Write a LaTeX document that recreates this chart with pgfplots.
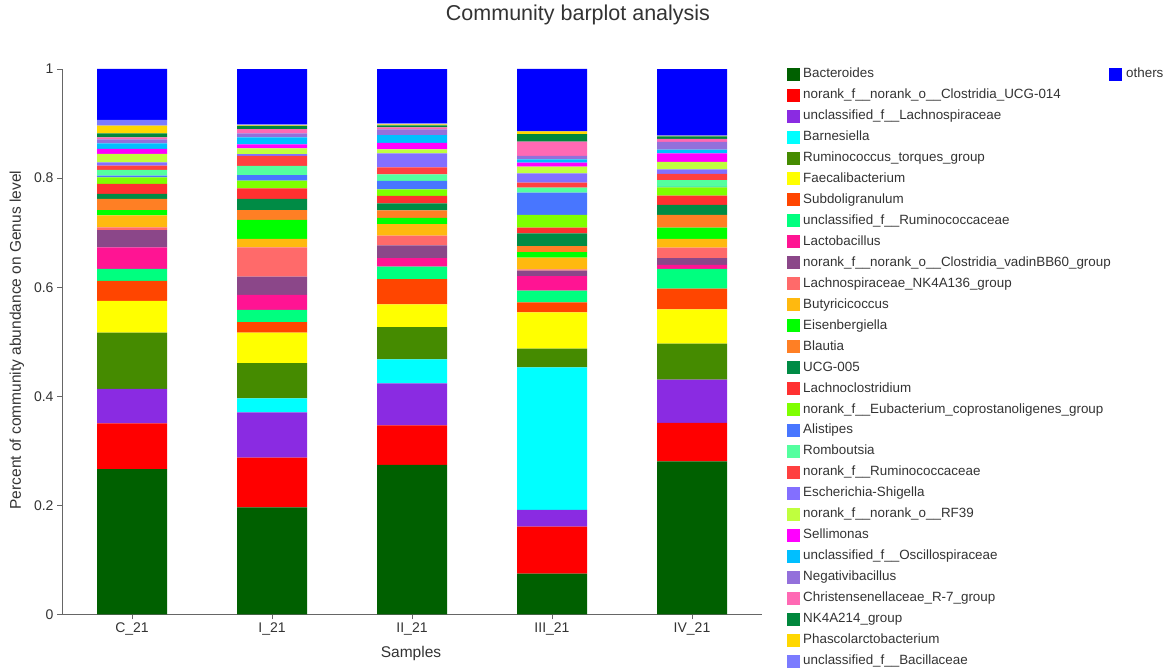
\documentclass[border=0pt]{standalone}
\usepackage{pgfplots}
\pgfplotsset{compat=1.18}
\usepackage{pgfplotstable}
\usepackage{fontspec}
\setmainfont{Liberation Sans}

\definecolor{cBact}{HTML}{006000}
\definecolor{cUCG014}{HTML}{FF0000}
\definecolor{cuLachno}{HTML}{8A2BE2}
\definecolor{cBarnes}{HTML}{00FFFF}
\definecolor{cRumTorq}{HTML}{458B00}
\definecolor{cFaecali}{HTML}{FFFF00}
\definecolor{cSubdoli}{HTML}{FF4500}
\definecolor{cuRum}{HTML}{00FF7F}
\definecolor{cLacto}{HTML}{FF1493}
\definecolor{cVadin}{HTML}{8B4789}
\definecolor{cNKA136}{HTML}{FF6A6A}
\definecolor{cButyr}{HTML}{FFB90F}
\definecolor{cEisen}{HTML}{00FF00}
\definecolor{cBlautia}{HTML}{FF7F24}
\definecolor{cUCG005}{HTML}{008B45}
\definecolor{cLachnocl}{HTML}{FF3030}
\definecolor{cEubact}{HTML}{7FFF00}
\definecolor{cAlist}{HTML}{4876FF}
\definecolor{cRomb}{HTML}{54FF9F}
\definecolor{cnorRum}{HTML}{FF4040}
\definecolor{cEsch}{HTML}{836FFF}
\definecolor{cRF39}{HTML}{C0FF3E}
\definecolor{cSellim}{HTML}{FF00FF}
\definecolor{cOscillo}{HTML}{00BFFF}
\definecolor{cNegativ}{HTML}{9370DB}
\definecolor{cChrist}{HTML}{FF69B4}
\definecolor{cNKB214}{HTML}{00873C}
\definecolor{cPhascol}{HTML}{FFD700}
\definecolor{cBacill}{HTML}{7B7BFF}
\definecolor{cOthers}{HTML}{0000FF}
\definecolor{txt}{HTML}{333333}

\pgfplotstableread{
x Bact   UCG014 uLachno Barnes RumTorq Faecali Subdoli uRum   Lacto  Vadin  NKA136 Butyr  Eisen  Blautia UCG005 Lachnocl Eubact Alist  Romb   norRum Esch   RFtn   Sellim Oscillo Negativ Christ NKB214 Phascol Bacill others
0 0.2667 0.0838 0.0629  0      0.1032  0.0581  0.0367  0.0220 0.0397 0.0317 0.0050 0.0220 0.0097 0.0202  0.0092 0.0183   0.0123 0.0029 0.0105 0.0078 0.0063 0.0152 0.0092 0.0104  0.0073  0.0037 0.0073 0.0140  0.0104 0.0935
1 0.1965 0.0909 0.0833  0.0257 0.0642  0.0561  0.0191  0.0225 0.0275 0.0335 0.0539 0.0152 0.0348 0.0183  0.0202 0.0196   0.0139 0.0104 0.0170 0.0183 0.0031 0.0104 0.0073 0.0128  0.0073  0.0079 0.0061 0.0010  0.0016 0.1014
2 0.2741 0.0727 0.0770  0.0440 0.0592  0.0416  0.0464  0.0225 0.0160 0.0233 0.0176 0.0214 0.0115 0.0136  0.0128 0.0139   0.0117 0.0158 0.0117 0.0128 0.0257 0.0073 0.0121 0.0141  0.0104  0.0037 0.0037 0.0018  0.0019 0.0995
3 0.0748 0.0862 0.0306  0.2616 0.0341  0.0667  0.0183  0.0213 0.0269 0.0097 0.0026 0.0213 0.0104 0.0110  0.0233 0.0103   0.0233 0.0408 0.0092 0.0092 0.0172 0.0121 0.0073 0.0063  0.0060  0.0262 0.0141 0.0050  0.0000 0.1142
4 0.2808 0.0703 0.0793  0      0.0660  0.0631  0.0377  0.0362 0.0073 0.0128 0.0189 0.0160 0.0207 0.0233  0.0183 0.0170   0.0154 0.0010 0.0121 0.0117 0.0079 0.0141 0.0152 0.0073  0.0141  0.0055 0.0046 0.0010  0.0010 0.1213
}\data

\pgfplotsset{
  mylegimg/.style={legend image code/.code={\fill[##1] (0pt,-6.5pt) rectangle (13pt,6.5pt);}},
}

\begin{document}
\begin{tikzpicture}
\useasboundingbox (0,0) rectangle (1169pt,671pt);
\node[txt, font=\fontsize{21.5}{25}\selectfont] at (578pt,656pt) {Community barplot analysis};
\begin{axis}[
  at={(62pt,56.5pt)}, anchor=south west,
  scale only axis, width=700pt, height=545.5pt,
  ybar stacked, bar width=0.5,
  xmin=-0.5, xmax=4.5, ymin=0, ymax=1,
  axis lines=left, axis line style={-, gray!80!black},
  tick style={gray!80!black, line width=0.6pt}, tick align=outside,
  major tick length=5pt,
  xtick={0,1,2,3,4},
  xticklabels={C\_21, I\_21, II\_21, III\_21, IV\_21},
  ytick={0,0.2,0.4,0.6,0.8,1},
  yticklabel style={/pgf/number format/fixed, /pgf/number format/assume math mode=true},
  ticklabel style={txt, font=\fontsize{14}{16}\selectfont},
  xlabel={Samples}, ylabel={Percent of community abundance on Genus level},
  label style={txt, font=\fontsize{15.5}{18}\selectfont},
  xlabel style={at={(axis description cs:0.4986,-0.0706)}, anchor=center},
  ylabel style={at={(axis description cs:-0.0643,0.503)}, anchor=center},
  mylegimg,
  legend cell align=left,
  legend style={at={(axis description cs:1.0357,1.0028)}, anchor=north west,
    draw=none, fill=none, inner sep=0pt, row sep=7.96pt,
    nodes={txt, font=\fontsize{13.4}{15}\selectfont, inner ysep=0pt, inner xsep=3pt, text height=10pt, text depth=3pt}},
]
\addplot[fill=cBact, draw=none] table[x=x,y=Bact]{\data};
\addplot[fill=cUCG014, draw=none] table[x=x,y=UCG014]{\data};
\addplot[fill=cuLachno, draw=none] table[x=x,y=uLachno]{\data};
\addplot[fill=cBarnes, draw=none] table[x=x,y=Barnes]{\data};
\addplot[fill=cRumTorq, draw=none] table[x=x,y=RumTorq]{\data};
\addplot[fill=cFaecali, draw=none] table[x=x,y=Faecali]{\data};
\addplot[fill=cSubdoli, draw=none] table[x=x,y=Subdoli]{\data};
\addplot[fill=cuRum, draw=none] table[x=x,y=uRum]{\data};
\addplot[fill=cLacto, draw=none] table[x=x,y=Lacto]{\data};
\addplot[fill=cVadin, draw=none] table[x=x,y=Vadin]{\data};
\addplot[fill=cNKA136, draw=none] table[x=x,y=NKA136]{\data};
\addplot[fill=cButyr, draw=none] table[x=x,y=Butyr]{\data};
\addplot[fill=cEisen, draw=none] table[x=x,y=Eisen]{\data};
\addplot[fill=cBlautia, draw=none] table[x=x,y=Blautia]{\data};
\addplot[fill=cUCG005, draw=none] table[x=x,y=UCG005]{\data};
\addplot[fill=cLachnocl, draw=none] table[x=x,y=Lachnocl]{\data};
\addplot[fill=cEubact, draw=none] table[x=x,y=Eubact]{\data};
\addplot[fill=cAlist, draw=none] table[x=x,y=Alist]{\data};
\addplot[fill=cRomb, draw=none] table[x=x,y=Romb]{\data};
\addplot[fill=cnorRum, draw=none] table[x=x,y=norRum]{\data};
\addplot[fill=cEsch, draw=none] table[x=x,y=Esch]{\data};
\addplot[fill=cRF39, draw=none] table[x=x,y=RFtn]{\data};
\addplot[fill=cSellim, draw=none] table[x=x,y=Sellim]{\data};
\addplot[fill=cOscillo, draw=none] table[x=x,y=Oscillo]{\data};
\addplot[fill=cNegativ, draw=none] table[x=x,y=Negativ]{\data};
\addplot[fill=cChrist, draw=none] table[x=x,y=Christ]{\data};
\addplot[fill=cNKB214, draw=none] table[x=x,y=NKB214]{\data};
\addplot[fill=cPhascol, draw=none] table[x=x,y=Phascol]{\data};
\addplot[fill=cBacill, draw=none] table[x=x,y=Bacill]{\data};
\addplot[fill=cOthers, draw=none, forget plot] table[x=x,y=others]{\data};
\legend{Bacteroides, norank\_f\_\_norank\_o\_\_Clostridia\_UCG-014, unclassified\_f\_\_Lachnospiraceae, Barnesiella, Ruminococcus\_torques\_group, Faecalibacterium, Subdoligranulum, unclassified\_f\_\_Ruminococcaceae, Lactobacillus, norank\_f\_\_norank\_o\_\_Clostridia\_vadinBB60\_group, Lachnospiraceae\_NK4A136\_group, Butyricicoccus, Eisenbergiella, Blautia, UCG-005, Lachnoclostridium, norank\_f\_\_Eubacterium\_coprostanoligenes\_group, Alistipes, Romboutsia, norank\_f\_\_Ruminococcaceae, Escherichia-Shigella, norank\_f\_\_norank\_o\_\_RF39, Sellimonas, unclassified\_f\_\_Oscillospiraceae, Negativibacillus, Christensenellaceae\_R-7\_group, NK4A214\_group, Phascolarctobacterium, unclassified\_f\_\_Bacillaceae}
\end{axis}
\begin{axis}[
  at={(62pt,56.5pt)}, anchor=south west,
  scale only axis, width=700pt, height=545.5pt,
  xmin=0, xmax=1, ymin=0, ymax=1, hide axis,
  mylegimg,
  legend cell align=left,
  legend style={at={(axis description cs:1.4957,1.0028)}, anchor=north west,
    draw=none, fill=none, inner sep=0pt,
    nodes={txt, font=\fontsize{13.4}{15}\selectfont, inner ysep=0pt, inner xsep=4pt, text height=10pt, text depth=3pt}},
]
\addplot[draw=none, forget plot] coordinates {(0.5,0.5)};
\addlegendimage{fill=cOthers, draw=none}
\addlegendentry{others}
\end{axis}
\end{tikzpicture}
\end{document}
